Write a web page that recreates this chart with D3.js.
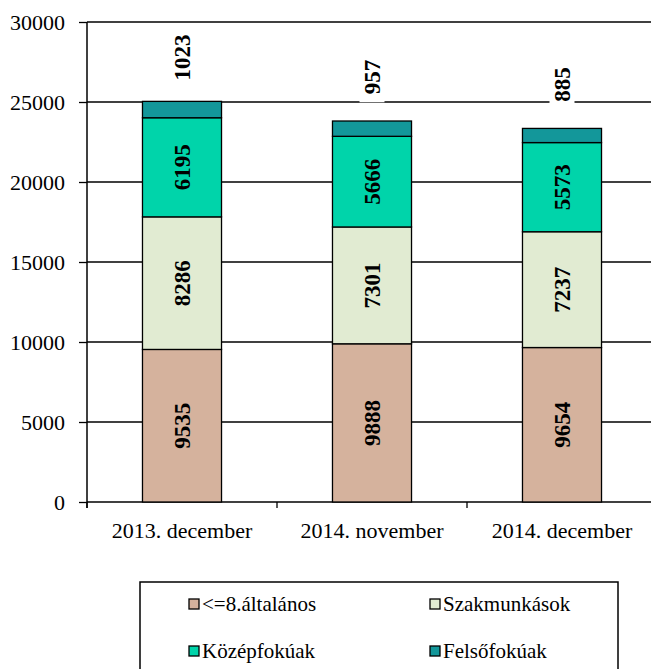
<!DOCTYPE html>
<html>
<head>
  <meta charset="utf-8">
  <title>Stacked bars</title>
  <script src="https://d3js.org/d3.v7.min.js"></script>
  <style>
    body { margin: 0; background: #fff; }
    svg text { font-family: "Liberation Serif", serif !important; }
  </style>
</head>
<body>
<div id="chart"></div>

<script type="text/javascript">
  // data
  const categories = ['2013. december', '2014. november', '2014. december'];
  const seriesNames = ['<=8.általános', 'Szakmunkások', 'Középfokúak', 'Felsőfokúak'];
  const altalanos = [9535, 9888, 9654];
  const szakmunkasok = [8286, 7301, 7237];
  const kozepfokuak = [6195, 5666, 5573];
  const felsofokuak = [1023, 957, 885];
  const yTicks = [0, 5000, 10000, 15000, 20000, 25000, 30000];
  const colors = ['#d5b29d', '#e1ebd2', '#00d4aa', '#13979a'];

  const values = [altalanos, szakmunkasok, kozepfokuak, felsofokuak];
  const rows = categories.map((c, i) => {
    let r = {cat: c};
    seriesNames.forEach((s, j) => r[s] = values[j][i]);
    return r;
  });

  let W = 651, H = 669;
  let plot = {left: 87, top: 22, right: 657, bottom: 502};

  let svg = d3.select('#chart')
      .append('svg')
        .attr('width', W)
        .attr('height', H)
        .attr('font-family', '"Liberation Serif", serif');

  let x = d3.scaleBand()
      .domain(categories)
      .range([plot.left, plot.right])
      .paddingInner(0.584)
      .paddingOuter(0.292);

  let y = d3.scaleLinear()
      .domain([0, 30000])
      .range([plot.bottom, plot.top]);

  // gridlines
  svg.append('g').selectAll('line')
     .data(yTicks)
     .join('line')
     .attr('x1', plot.left).attr('x2', W)
     .attr('y1', d => y(d)).attr('y2', d => y(d))
     .attr('stroke', '#000').attr('stroke-width', 1.3);

  // y axis
  let yAxis = svg.append('g')
     .attr('transform', `translate(${plot.left},0)`)
     .call(d3.axisLeft(y).tickValues(yTicks).tickFormat(d3.format('d'))
             .tickSize(8).tickSizeOuter(0).tickPadding(14));
  yAxis.attr('font-family', null).attr('font-size', '22px');
  yAxis.select('.domain').remove();
  yAxis.selectAll('line').attr('stroke', '#000').attr('stroke-width', 1.3);
  yAxis.selectAll('text').attr('fill', '#000');
  svg.append('line')
     .attr('x1', plot.left).attr('x2', plot.left)
     .attr('y1', plot.top).attr('y2', plot.bottom + 6)
     .attr('stroke', '#000').attr('stroke-width', 1.5);

  // x axis
  let xAxis = svg.append('g')
     .attr('transform', `translate(0,${plot.bottom})`)
     .call(d3.axisBottom(x).tickSize(0).tickPadding(20));
  xAxis.attr('font-family', null).attr('font-size', '22px');
  xAxis.select('.domain').remove();
  xAxis.selectAll('text').attr('fill', '#000');
  svg.append('g').selectAll('line')
     .data(categories)
     .join('line')
     .attr('x1', d => x(d) - x.step() * x.paddingInner() / 2)
     .attr('x2', d => x(d) - x.step() * x.paddingInner() / 2)
     .attr('y1', plot.bottom).attr('y2', plot.bottom + 6)
     .attr('stroke', '#000').attr('stroke-width', 1.3);

  // stacked bars
  let stacked = d3.stack().keys(seriesNames)(rows);

  let layers = svg.append('g').selectAll('g')
     .data(stacked)
     .join('g')
     .attr('fill', (d, i) => colors[i]);

  layers.selectAll('rect')
     .data(d => d)
     .join('rect')
     .attr('x', d => x(d.data.cat))
     .attr('width', x.bandwidth())
     .attr('y', d => y(d[1]))
     .attr('height', d => y(d[0]) - y(d[1]))
     .attr('stroke', '#000')
     .attr('stroke-width', 1.3);

  // segment labels
  let labels = svg.append('g');
  stacked.forEach((layer, i) => {
    layer.forEach(d => {
      let cx = x(d.data.cat) + x.bandwidth() / 2;
      let cy = i === stacked.length - 1 ? y(d[1]) - 44 : (y(d[0]) + y(d[1])) / 2;
      let g = labels.append('g').attr('transform', `translate(${cx},${cy}) rotate(-90)`);
      let t = g.append('text')
         .attr('text-anchor', 'middle')
         .attr('dominant-baseline', 'central')
         .attr('font-size', '23px')
         .attr('font-weight', 'bold')
         .text(d[1] - d[0]);
      if (i === stacked.length - 1) {
        let b = t.node().getBBox();
        g.insert('rect', 'text')
         .attr('x', b.x - 8).attr('y', b.y)
         .attr('width', b.width + 16).attr('height', b.height)
         .attr('fill', '#fff');
      }
    });
  });

  // legend
  let legend = svg.append('g');
  legend.append('rect')
     .attr('x', 140).attr('y', 582)
     .attr('width', 478).attr('height', 100)
     .attr('fill', '#fff').attr('stroke', '#000').attr('stroke-width', 1.5);

  let items = legend.selectAll('g.item')
     .data(seriesNames)
     .join('g')
     .attr('class', 'item')
     .attr('transform', (d, i) => `translate(${i % 2 ? 430 : 189},${i < 2 ? 599 : 646})`);
  items.append('rect')
     .attr('width', 10).attr('height', 10)
     .attr('fill', (d, i) => colors[i])
     .attr('stroke', '#000').attr('stroke-width', 1.3);
  items.append('text')
     .attr('x', 13).attr('y', 12)
     .attr('font-size', '21px')
     .text(d => d);
</script>
</body>
</html>
